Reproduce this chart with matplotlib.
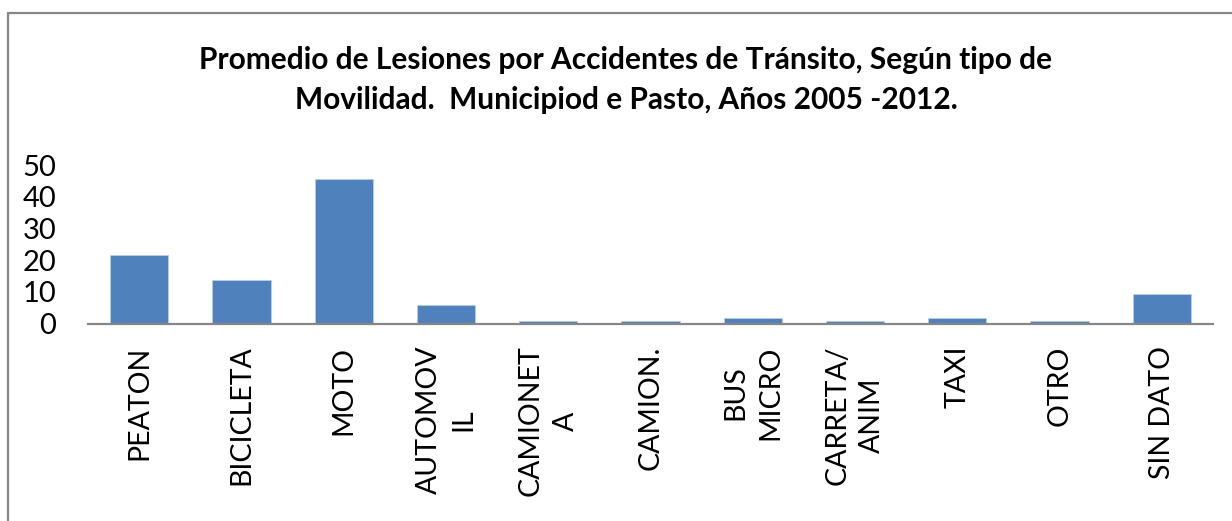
"""Bar chart: average traffic-accident injuries by mobility type, Pasto."""

import matplotlib as mpl
from matplotlib import pyplot as plt
from matplotlib.patches import Rectangle

mpl.use("Agg")

# Data
categories = [
    "PEATON",
    "BICICLETA",
    "MOTO",
    "AUTOMOV\nIL",
    "CAMIONET\nA",
    "CAMION.",
    "BUS\nMICRO",
    "CARRETA/\nANIM",
    "TAXI",
    "OTRO",
    "SIN DATO",
]
values = [21.5, 13.7, 45.7, 5.8, 0.9, 0.9, 1.6, 0.9, 1.6, 0.9, 9.4]
y_ticks = [0, 10, 20, 30, 40, 50]

title = (
    "Promedio de Lesiones por Accidentes de Tránsito, Según tipo de\n"
    "Movilidad.  Municipiod e Pasto, Años 2005 -2012."
)

plt.rcParams["font.family"] = ["Lato", "DejaVu Sans"]

W, H = 1232, 521
fig = plt.figure(figsize=(W / 100, H / 100), dpi=100)

# Plot area (pixel positions converted to figure fractions)
left, right = 88 / W, 1213 / W
bottom, top = (H - 323.5) / H, (H - 165) / H
ax = fig.add_axes([left, bottom, right - left, top - bottom])

x = range(len(categories))
ax.bar(x, values, width=0.57, color="#4F81BD", edgecolor="#B9CDE5", linewidth=0.6)

ax.set_xlim(-0.5, len(categories) - 0.5)
ax.set_ylim(0, 50)
ax.set_yticks(y_ticks)
ax.set_yticklabels([str(t) for t in y_ticks], fontsize=21)
ax.set_xticks(list(x))
ax.set_xticklabels(
    categories, rotation=90, ha="center", va="top", multialignment="center",
    fontsize=20.5, linespacing=1.4,
)
ax.tick_params(axis="y", length=0, pad=23)
ax.tick_params(axis="x", length=0, pad=16)

for side in ("left", "right", "top"):
    ax.spines[side].set_visible(False)
ax.spines["bottom"].set_color("#868686")
ax.spines["bottom"].set_linewidth(1.6)

# Chart area border (open to the right and bottom, as in the reference)
fig.patches.append(
    Rectangle((8 / W, -0.05), 1.05, (H - 13) / H + 0.05, transform=fig.transFigure,
              fill=False, edgecolor="#868686", linewidth=1.6)
)

fig.text(626 / W, (H - 80) / H, title, ha="center", va="center",
         fontsize=21.5, fontweight="bold", linespacing=1.5)

fig.savefig("out.png", dpi=100)
plt.close(fig)
